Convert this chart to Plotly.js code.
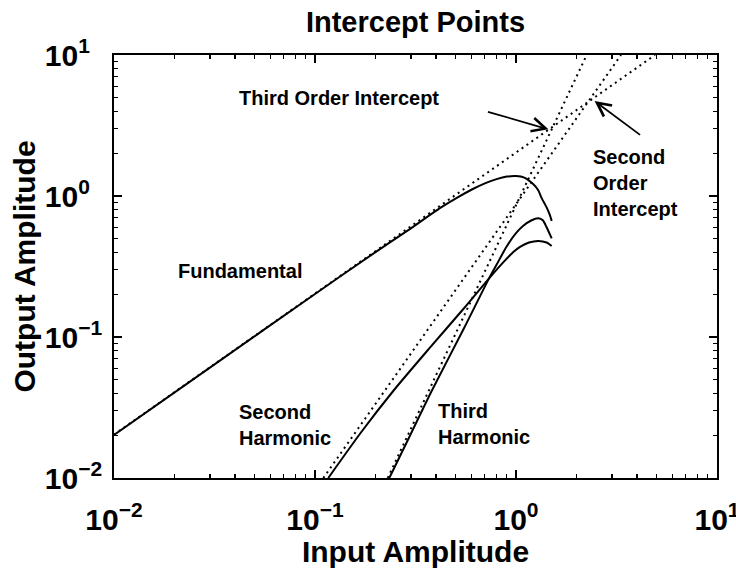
<!DOCTYPE html>
<html>
<head>
<meta charset="utf-8">
<script src="https://cdn.plot.ly/plotly-3.0.1.min.js"></script>
<style>html,body{margin:0;padding:0;background:#fff;}#chart{width:736px;height:568px;}</style>
</head>
<body>
<div id="chart"></div>
<script>
// ---- data ----
const fundX = [0.01, 0.03, 0.1, 0.2, 0.3, 0.42, 0.51, 0.61, 0.70, 0.80, 0.90, 1.0, 1.1, 1.22, 1.29, 1.34, 1.42, 1.47, 1.505];
const fundY = [0.0202, 0.0606, 0.202, 0.40, 0.59, 0.823, 0.974, 1.121, 1.23, 1.317, 1.373, 1.386, 1.35, 1.21, 1.10, 0.97, 0.83, 0.74, 0.665];

const secX = [0.1164, 0.17, 0.245, 0.373, 0.547, 0.742, 0.866, 0.97, 1.047, 1.16, 1.292, 1.42, 1.505];
const secY = [0.01, 0.0212, 0.0414, 0.084, 0.158, 0.265, 0.34, 0.40, 0.435, 0.468, 0.480, 0.468, 0.442];

const thirdX = [0.2343, 0.30, 0.3805, 0.547, 0.742, 0.80, 0.90, 1.0, 1.087, 1.19, 1.292, 1.36, 1.42, 1.505];
const thirdY = [0.01, 0.0206, 0.0414, 0.113, 0.268, 0.325, 0.44, 0.545, 0.615, 0.67, 0.695, 0.672, 0.60, 0.50];

// dotted asymptote lines (end points)
const fundLineX = [0.01, 4.915];
const fundLineY = [0.0203, 10];
const secLineX = [0.110, 3.33];
const secLineY = [0.01, 10];
const thirdLineX = [0.230, 2.247];
const thirdLineY = [0.01, 10];

// arrow tips
const thirdInterceptTip = [1.45, 2.97];
const secondInterceptTip = [2.46, 4.72];

const tickVals = [0.01, 0.1, 1, 10];
const tickTextX = ['10<sup>−2</sup>', '10<sup>−1</sup>', '10<sup>0</sup>', '10<sup>1</sup>'];
const PAD = '<span style="color:rgba(0,0,0,0)">−</span>';
const tickTextY = ['10<sup>−2</sup>', '10<sup>−1</sup>', '10<sup>0' + PAD + '</sup>', '10<sup>1' + PAD + '</sup>'];

const labels = {
  title: 'Intercept Points',
  xTitle: 'Input Amplitude',
  yTitle: 'Output Amplitude',
  fund: 'Fundamental',
  sec: 'Second<br>Harmonic',
  third: 'Third<br>Harmonic',
  toi: 'Third Order Intercept',
  soi: 'Second<br>Order<br>Intercept'
};

// minor tick positions (axis furniture: 2..9 per decade)
const minorVals = [];
for (let d = -2; d <= 0; d++) for (let m = 2; m <= 9; m++) minorVals.push(m * Math.pow(10, d));

// ---- styling ----
const FONT = 'Liberation Sans, Arial, Helvetica, sans-serif';
const dotLine = {color: 'black', width: 2, dash: '2px,4px'};
const solidLine = {color: 'black', width: 2, shape: 'spline', smoothing: 0.7};

const traces = [
  {x: fundLineX, y: fundLineY, mode: 'lines', line: dotLine},
  {x: secLineX, y: secLineY, mode: 'lines', line: dotLine},
  {x: thirdLineX, y: thirdLineY, mode: 'lines', line: dotLine},
  {x: fundX, y: fundY, mode: 'lines', line: solidLine},
  {x: secX, y: secY, mode: 'lines', line: solidLine},
  {x: thirdX, y: thirdY, mode: 'lines', line: solidLine}
];

function majorAxis(title, standoff, tickText, labelStandoff) {
  return {
    type: 'log', range: [-2, 1],
    tickmode: 'array', tickvals: tickVals, ticktext: tickText,
    ticks: 'inside', ticklen: 8, tickwidth: 1.4, tickcolor: 'black',
    minor: {tickmode: 'array', tickvals: minorVals, ticks: 'inside', ticklen: 4, tickwidth: 1.2, tickcolor: 'black', showgrid: false},
    ticklabelstandoff: labelStandoff, ticklabeloverflow: 'allow',
    showline: true, linecolor: 'black', linewidth: 1.8, mirror: 'ticks',
    showgrid: false, zeroline: false,
    tickfont: {family: FONT, size: 30, color: 'black', weight: 'bold'},
    title: {text: title, font: {family: FONT, size: 30, color: 'black', weight: 'bold'}, standoff: standoff},
    automargin: false
  };
}

const annFont = {family: FONT, size: 20, color: 'black', weight: 'bold'};
const L = Math.log10;

const layout = {
  width: 736, height: 568,
  margin: {l: 114, r: 19, t: 55, b: 90},
  paper_bgcolor: 'white', plot_bgcolor: 'white',
  showlegend: false,
  title: {text: labels.title, font: {family: FONT, size: 29, color: 'black', weight: 'bold'}, x: 0.5, xref: 'paper', y: 0.962, yanchor: 'middle'},
  xaxis: majorAxis(labels.xTitle, 0, tickTextX, 14),
  yaxis: majorAxis(labels.yTitle, 0, tickTextY, 4),
  annotations: [
    {x: -0.881, y: 0.694, text: labels.toi, showarrow: false, font: annFont, xanchor: 'center', yanchor: 'middle'},
    {x: -1.371, y: -0.530, text: labels.fund, showarrow: false, font: annFont, xanchor: 'center', yanchor: 'middle'},
    {x: -1.388, y: -1.627, text: labels.sec, showarrow: false, font: annFont, xanchor: 'left', yanchor: 'middle', align: 'left'},
    {x: -0.398, y: -1.620, text: labels.third, showarrow: false, font: annFont, xanchor: 'left', yanchor: 'middle', align: 'left'},
    {x: 0.373, y: 0.092, text: labels.soi, showarrow: false, font: annFont, xanchor: 'left', yanchor: 'middle', align: 'left'},
    {x: L(thirdInterceptTip[0]), y: L(thirdInterceptTip[1]), text: '', showarrow: true,
     arrowhead: 5, arrowsize: 1.5, arrowwidth: 1.8, arrowcolor: 'black', ax: -62, ay: -18, standoff: 0},
    {x: L(secondInterceptTip[0]), y: L(secondInterceptTip[1]), text: '', showarrow: true,
     arrowhead: 5, arrowsize: 1.5, arrowwidth: 1.8, arrowcolor: 'black', ax: 47, ay: 35, standoff: 0}
  ]
};

Plotly.newPlot('chart', traces, layout, {staticPlot: true, displayModeBar: false});
</script>
</body>
</html>
